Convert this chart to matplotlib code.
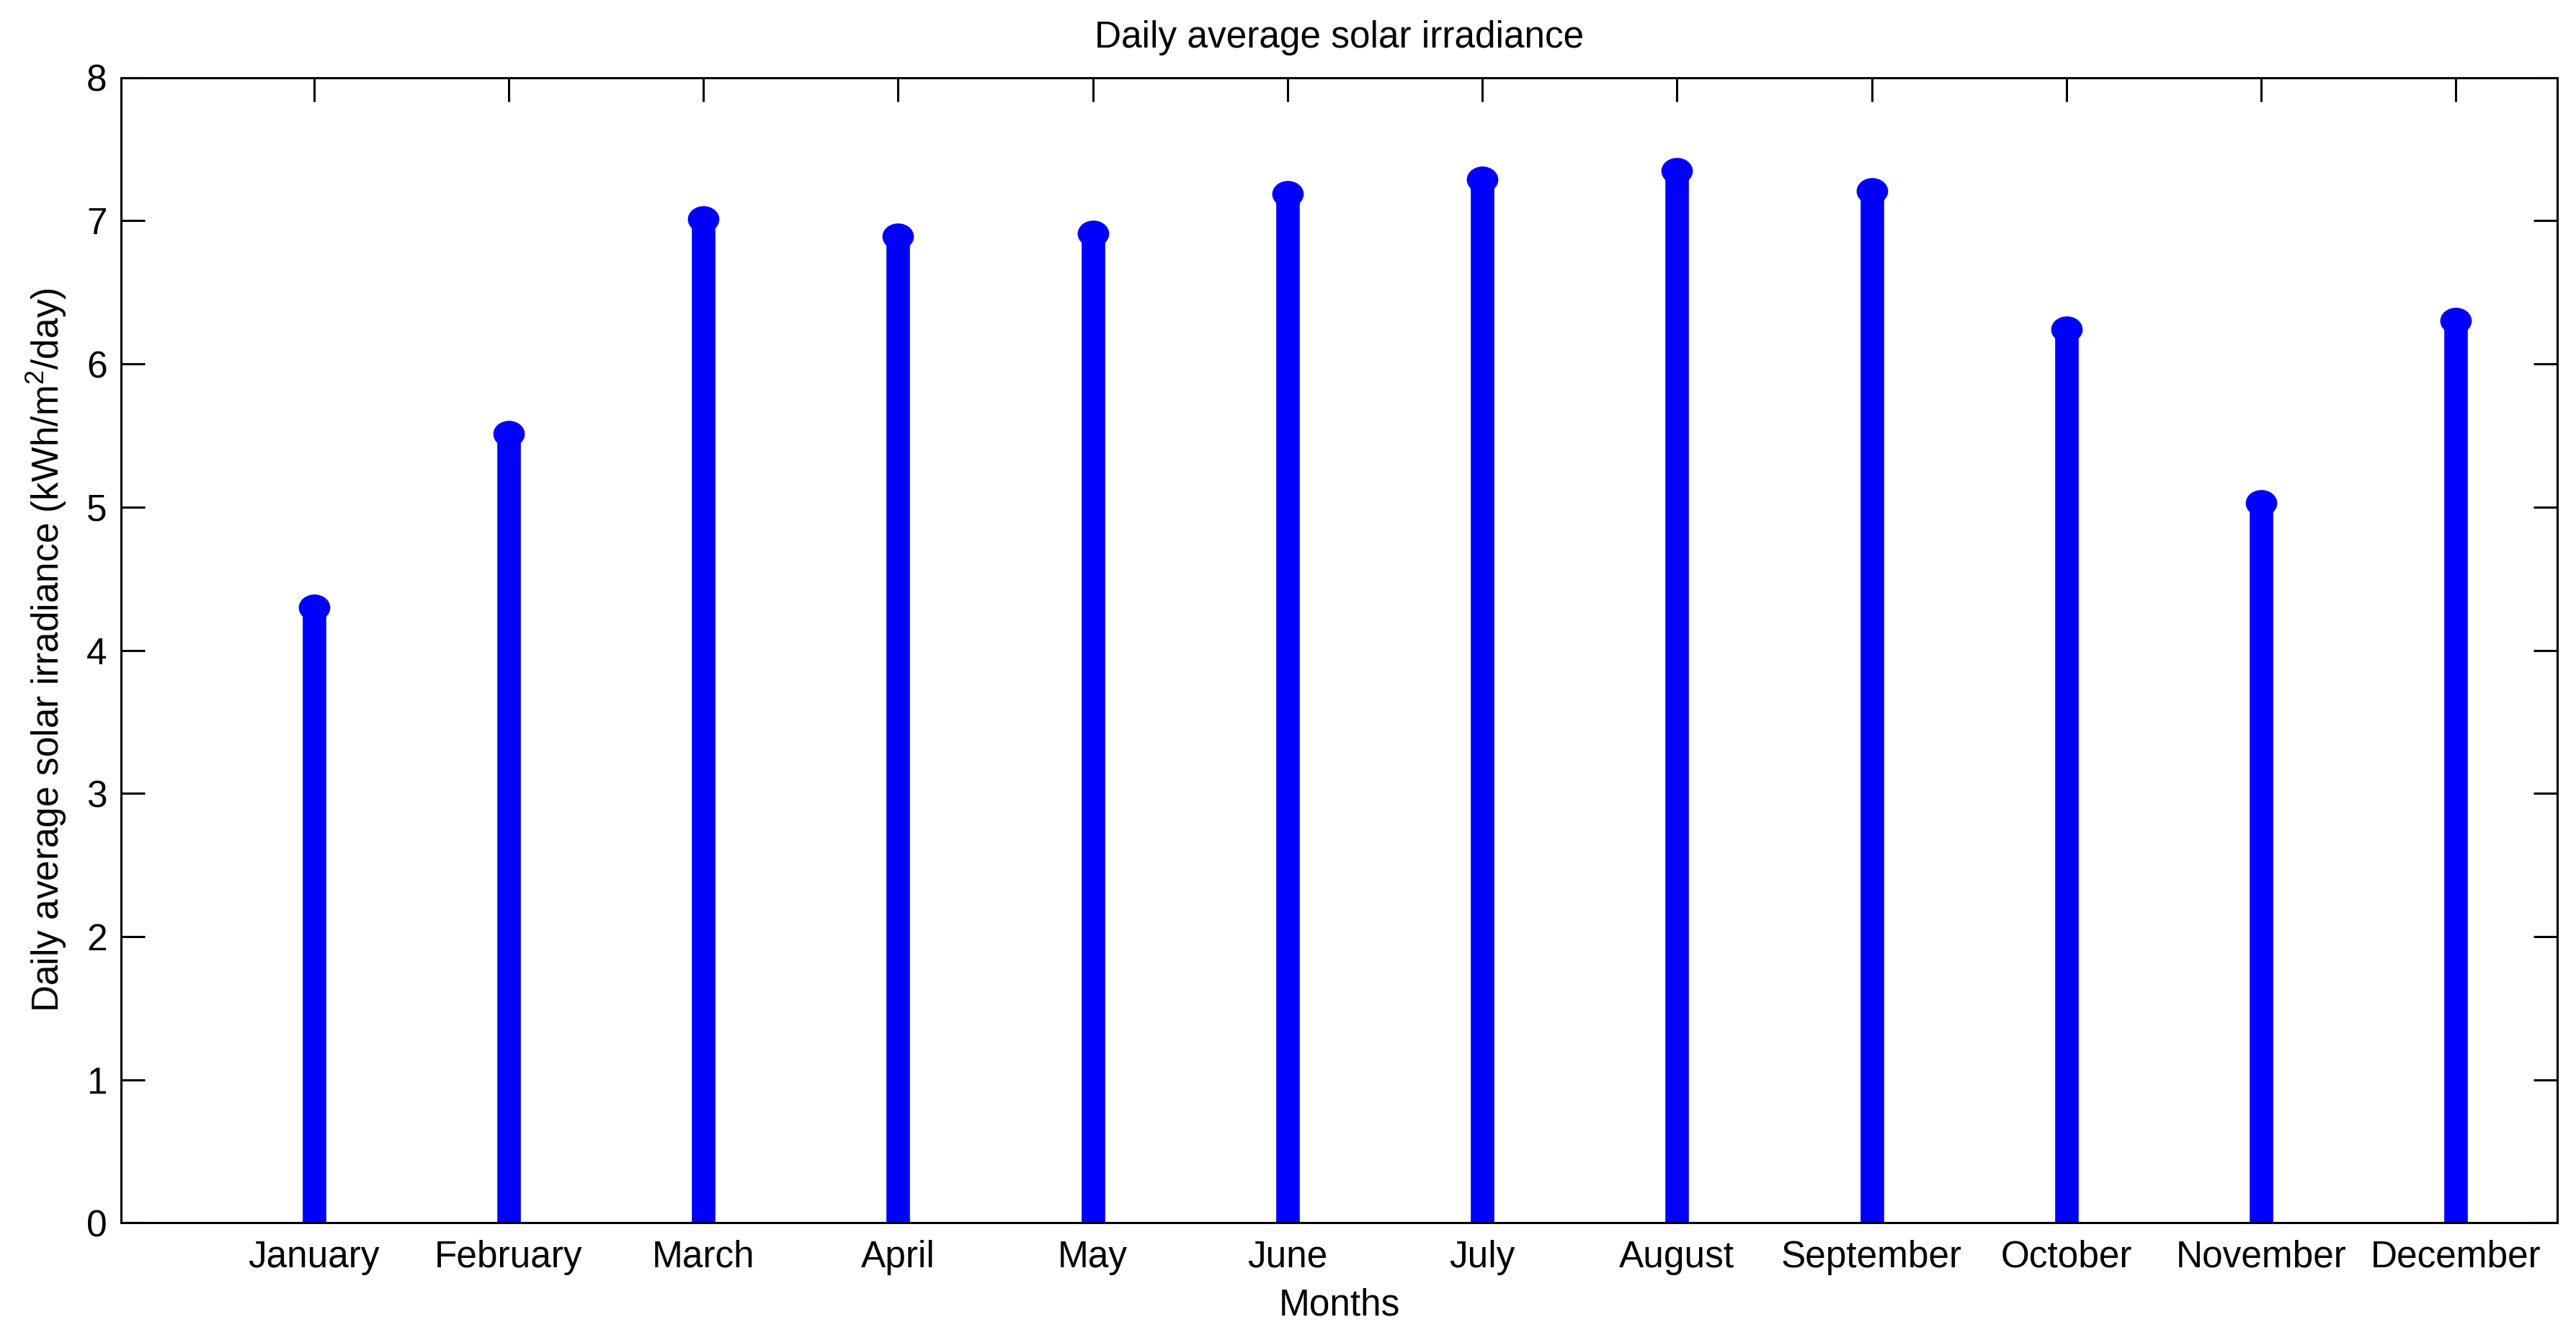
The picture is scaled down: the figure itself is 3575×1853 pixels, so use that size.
import numpy as np
import matplotlib
matplotlib.use("Agg")
import matplotlib.pyplot as plt
from matplotlib.path import Path

months = ["January", "February", "March", "April", "May", "June", "July",
          "August", "September", "October", "November", "December"]
month_pos = [1, 2, 3, 4, 5, 6, 7, 8, 9, 10, 11, 12]
irradiance = [4.30, 5.51, 7.01, 6.89, 6.91, 7.19, 7.29, 7.35, 7.21, 6.24, 5.03, 6.30]
y_ticks = [0, 1, 2, 3, 4, 5, 6, 7, 8]

plt.rcParams['font.family'] = ['Liberation Sans', 'DejaVu Sans']
plt.rcParams['mathtext.default'] = 'regular'

DPI = 100
FS = 37
fig = plt.figure(figsize=(3575 / DPI, 1853 / DPI), dpi=DPI)
fig.patch.set_facecolor('white')
ax = fig.add_axes([168 / 3575, 1 - 1697.3 / 1853,
                   (3549 - 168) / 3575, (1697.3 - 107.7) / 1853])

blue = '#0000ff'
ax.vlines(month_pos, 0, irradiance, colors=blue, linewidth=23.5, zorder=2)

circ = Path.unit_circle()
ell = Path(circ.vertices * np.array([1.0, 0.84]), circ.codes)
ax.plot(month_pos, irradiance, linestyle='none', marker=ell, markersize=31.5,
        color=blue, markeredgewidth=0, zorder=3, clip_on=False)

ax.set_xlim(0.01, 12.52)
ax.set_ylim(0, 8)
ax.set_xticks(month_pos)
ax.set_xticklabels(months)
ax.set_yticks(y_ticks)

ax.tick_params(axis='both', which='major', direction='in', length=24, width=2.2,
               top=True, right=True, labelsize=FS, colors='black')
ax.tick_params(axis='x', pad=17)
ax.tick_params(axis='y', pad=14)
for s in ax.spines.values():
    s.set_linewidth(2.2)
    s.set_color('black')

ax.set_title("Daily average solar irradiance", fontsize=FS, pad=30)
ax.set_xlabel("Months", fontsize=FS, labelpad=13)
ax.set_ylabel("Daily average solar irradiance (kWh/m$^2$/day)", fontsize=FS, labelpad=18)

fig.savefig("out.png", dpi=DPI, facecolor='white')
